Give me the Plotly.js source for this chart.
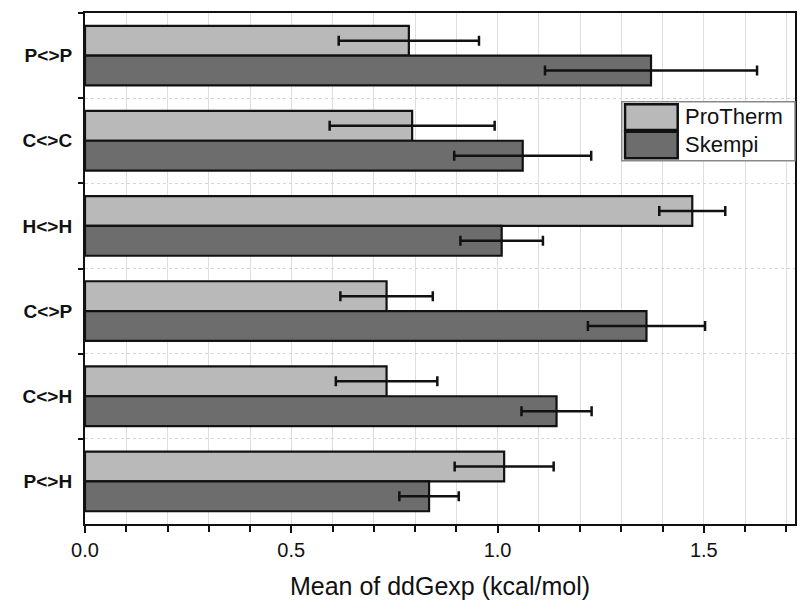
<!DOCTYPE html>
<html>
<head>
<meta charset="utf-8">
<script src="https://cdn.plot.ly/plotly-3.0.1.min.js"></script>
<style>html,body{margin:0;padding:0;background:#fff;}#chart{width:800px;height:610px;}</style>
</head>
<body>
<div id="chart"></div>
<script>
const categories = ['P<>P', 'C<>C', 'H<>H', 'C<>P', 'C<>H', 'P<>H'];
const seriesNames = ['ProTherm', 'Skempi'];
const protherm = [0.785, 0.793, 1.472, 0.731, 0.731, 1.016];
const prothermErr = [0.17, 0.20, 0.08, 0.112, 0.123, 0.12];
const skempi = [1.372, 1.061, 1.010, 1.361, 1.143, 0.834];
const skempiErr = [0.257, 0.166, 0.10, 0.142, 0.085, 0.072];
const xTickVals = [0.0, 0.5, 1.0, 1.5];
const xTickText = ['0.0', '0.5', '1.0', '1.5'];

const colors = ['#b9b9b9', '#6d6d6d'];
const FONT = 'Liberation Sans, Arial, sans-serif';

function barTrace(name, vals, errs, color) {
  return {
    type: 'bar', orientation: 'h', name: name,
    y: categories, x: vals,
    marker: {color: color, line: {color: '#111', width: 2.2}},
    error_x: {type: 'data', array: errs, visible: true, color: '#111', thickness: 2.5, width: 5},
    showlegend: false, hoverinfo: 'x+y'
  };
}

const data = [
  barTrace(seriesNames[0], protherm, prothermErr, colors[0]),
  barTrace(seriesNames[1], skempi, skempiErr, colors[1])
];

// legend drawn in paper coordinates
const L = {x0: 0.756, x1: 1.0, y0: 0.711, y1: 0.8264};
const sw = [
  {x0: 0.7606, x1: 0.8348, y0: 0.771, y1: 0.8213, ty: 0.7965},
  {x0: 0.7606, x1: 0.8348, y0: 0.7157, y1: 0.7677, ty: 0.7417}
];
const shapes = [
  {type: 'rect', xref: 'paper', yref: 'paper', x0: L.x0, x1: L.x1, y0: L.y0, y1: L.y1,
   fillcolor: '#fff', line: {color: '#888', width: 1.5}, layer: 'above'}
];
const annotations = [];
seriesNames.forEach((n, i) => {
  shapes.push({type: 'rect', xref: 'paper', yref: 'paper', x0: sw[i].x0, x1: sw[i].x1, y0: sw[i].y0, y1: sw[i].y1,
    fillcolor: colors[i], line: {color: '#111', width: 2.5}, layer: 'above'});
  annotations.push({xref: 'paper', yref: 'paper', x: 0.8423, y: sw[i].ty, xanchor: 'left', yanchor: 'middle',
    text: n, showarrow: false, font: {family: FONT, size: 22, color: '#111'}});
});

const layout = {
  width: 800, height: 610,
  margin: {l: 85, r: 5, t: 13, b: 86, pad: 0},
  paper_bgcolor: '#fff', plot_bgcolor: '#fff',
  barmode: 'group', bargap: 0.3, bargroupgap: 0,
  font: {family: FONT, color: '#111'},
  xaxis: {
    range: [0, 1.721], tickvals: xTickVals, ticktext: xTickText,
    ticks: 'outside', ticklen: 7, tickwidth: 2, tickcolor: '#111',
    tickfont: {family: FONT, size: 20, color: '#111'},
    showline: true, linecolor: '#111', linewidth: 2, mirror: true,
    showgrid: true, gridcolor: '#dedede', gridwidth: 1,
    zeroline: false,
    minor: {dtick: 0.1, tick0: 0, ticks: 'outside', ticklen: 6, tickwidth: 2, tickcolor: '#111',
            showgrid: true, gridcolor: '#dedede', gridwidth: 1},
    title: {text: 'Mean of ddGexp (kcal/mol)', font: {family: FONT, size: 25, color: '#111'}, standoff: 17}
  },
  yaxis: {
    type: 'category', autorange: 'reversed',
    tickson: 'boundaries', ticks: 'outside', ticklen: 5, tickwidth: 2, tickcolor: '#111',
    tickfont: {family: FONT, size: 19, color: '#111', weight: 'bold'},
    ticklabelstandoff: 7,
    showline: true, linecolor: '#111', linewidth: 2, mirror: true,
    showgrid: true, gridcolor: '#d6d6d6', gridwidth: 1, griddash: 'dot',
    zeroline: false
  },
  shapes: shapes,
  annotations: annotations
};

Plotly.newPlot('chart', data, layout, {displayModeBar: false, staticPlot: true});
</script>
</body>
</html>
